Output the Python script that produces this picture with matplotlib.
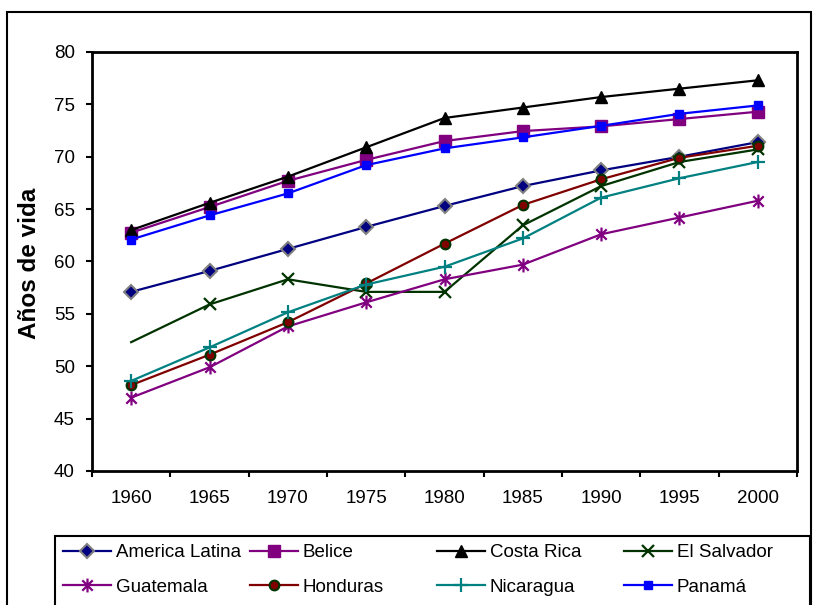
import numpy as np
import matplotlib.pyplot as plt
from matplotlib.lines import Line2D
from matplotlib.path import Path
from matplotlib.ticker import FixedLocator

plt.rcParams['font.family'] = ['Liberation Sans', 'DejaVu Sans']

years = ['1960', '1965', '1970', '1975', '1980', '1985', '1990', '1995', '2000']

america_latina = [57.1, 59.1, 61.2, 63.3, 65.3, 67.2, 68.7, 70.0, 71.4]
belice = [62.75, 65.2, 67.7, 69.7, 71.5, 72.45, 72.9, 73.6, 74.3]
costa_rica = [63.0, 65.6, 68.1, 70.9, 73.7, 74.7, 75.7, 76.5, 77.3]
el_salvador = [52.3, 55.9, 58.3, 57.1, 57.1, 63.45, 67.2, 69.5, 70.7]
guatemala = [47.0, 49.9, 53.8, 56.1, 58.3, 59.7, 62.6, 64.2, 65.8]
honduras = [48.2, 51.1, 54.2, 57.9, 61.7, 65.4, 67.85, 69.9, 71.05]
nicaragua = [48.6, 51.8, 55.15, 57.8, 59.5, 62.2, 66.1, 67.95, 69.5]
panama = [62.1, 64.4, 66.5, 69.2, 70.8, 71.85, 72.95, 74.1, 74.9]

W, H = 814, 605
FS = 13.5

# star marker: vertical bar crossed by an X
star = Path([(0, -1), (0, 1), (-0.75, -0.75), (0.75, 0.75),
             (-0.75, 0.75), (0.75, -0.75)],
            [Path.MOVETO, Path.LINETO] * 3)

fig = plt.figure(figsize=(W / 100, H / 100), dpi=100)
ax = fig.add_axes([92 / W, 1 - 471 / H, (797 - 92) / W, (471 - 52) / H])

x = np.arange(len(years))

# (label, values, line colour, marker options)
series = [
    ('America Latina', america_latina, '#000080',
     dict(marker='D', ms=7, mfc='#000080', mec='#808080', mew=1.5)),
    ('Belice', belice, '#800080',
     dict(marker='s', ms=8.5, mfc='#800080', mec='#800080')),
    ('Costa Rica', costa_rica, 'black',
     dict(marker='^', ms=9, mfc='black', mec='black')),
    ('El Salvador', el_salvador, '#003300',
     dict(marker='x', ms=9, mec='#003300', mew=1.6, markevery=range(1, 9))),
    ('Guatemala', guatemala, '#800080',
     dict(marker=star, ms=10, mec='#800080', mew=1.6)),
    ('Honduras', honduras, '#800000',
     dict(marker='o', ms=7, mfc='#800000', mec='#003300', mew=1.5)),
    ('Nicaragua', nicaragua, '#008080',
     dict(marker='+', ms=10, mec='#008080', mew=1.6)),
    ('Panamá', panama, '#0000FF',
     dict(marker='s', ms=5.5, mfc='#0000FF', mec='#0000FF')),
]

handles = []
for label, vals, color, mk in series:
    line, = ax.plot(x, vals, color=color, lw=1.6, label=label, **mk)
    handles.append(line)

ax.set_xlim(-0.5, len(years) - 0.5)
ax.set_ylim(40, 80)
ax.set_yticks(np.arange(40, 81, 5))

# ticks between the categories, labels centred on them
ax.xaxis.set_major_locator(FixedLocator(np.arange(-0.5, len(years), 1.0)))
ax.xaxis.set_minor_locator(FixedLocator(x))
ax.set_xticklabels([])
ax.set_xticklabels(years, minor=True)
ax.tick_params(axis='x', which='major', direction='out', length=4, width=1.5)
ax.tick_params(axis='x', which='minor', length=0, pad=14, labelsize=FS)
ax.tick_params(axis='y', direction='out', length=4.3, width=1.5, pad=8,
               labelsize=FS)

for s in ['top', 'right', 'bottom', 'left']:
    ax.spines[s].set_linewidth(2)
    ax.spines[s].set_color('black')

fig.text(29 / W, 1 - 263 / H, 'Años de vida', rotation=90, ha='center',
         va='center', fontsize=17.5, fontweight='bold')

# legend: four equal columns of two entries
col_x = [63, 250, 437, 624]
for i, cx in enumerate(col_x):
    pair = [handles[i], handles[i + 4]]
    leg_marker = []
    for h in pair:
        kw = dict(color=h.get_color(), lw=1.6, marker=h.get_marker(),
                  ms=h.get_markersize(), mfc=h.get_markerfacecolor(),
                  mec=h.get_markeredgecolor(), mew=h.get_markeredgewidth())
        leg_marker.append(Line2D([], [], **kw))
    fig.legend(leg_marker, [h.get_label() for h in pair],
               loc='upper left', bbox_to_anchor=(cx / W, 1 - 544 / H),
               frameon=False, fontsize=FS, borderpad=0, borderaxespad=0,
               handlelength=2.55, handletextpad=0.27, labelspacing=0.92,
               numpoints=1)

# legend frame and chart border
fig.add_artist(plt.Rectangle((55 / W, -0.05), (810 - 55) / W,
                             1 - 536 / H + 0.05, transform=fig.transFigure,
                             fill=False, ec='black', lw=1.5))
fig.add_artist(plt.Rectangle((7 / W, -0.05), (811 - 7) / W,
                             1 - 12 / H + 0.05, transform=fig.transFigure,
                             fill=False, ec='black', lw=1.5))

fig.savefig('out.png', dpi=100)
